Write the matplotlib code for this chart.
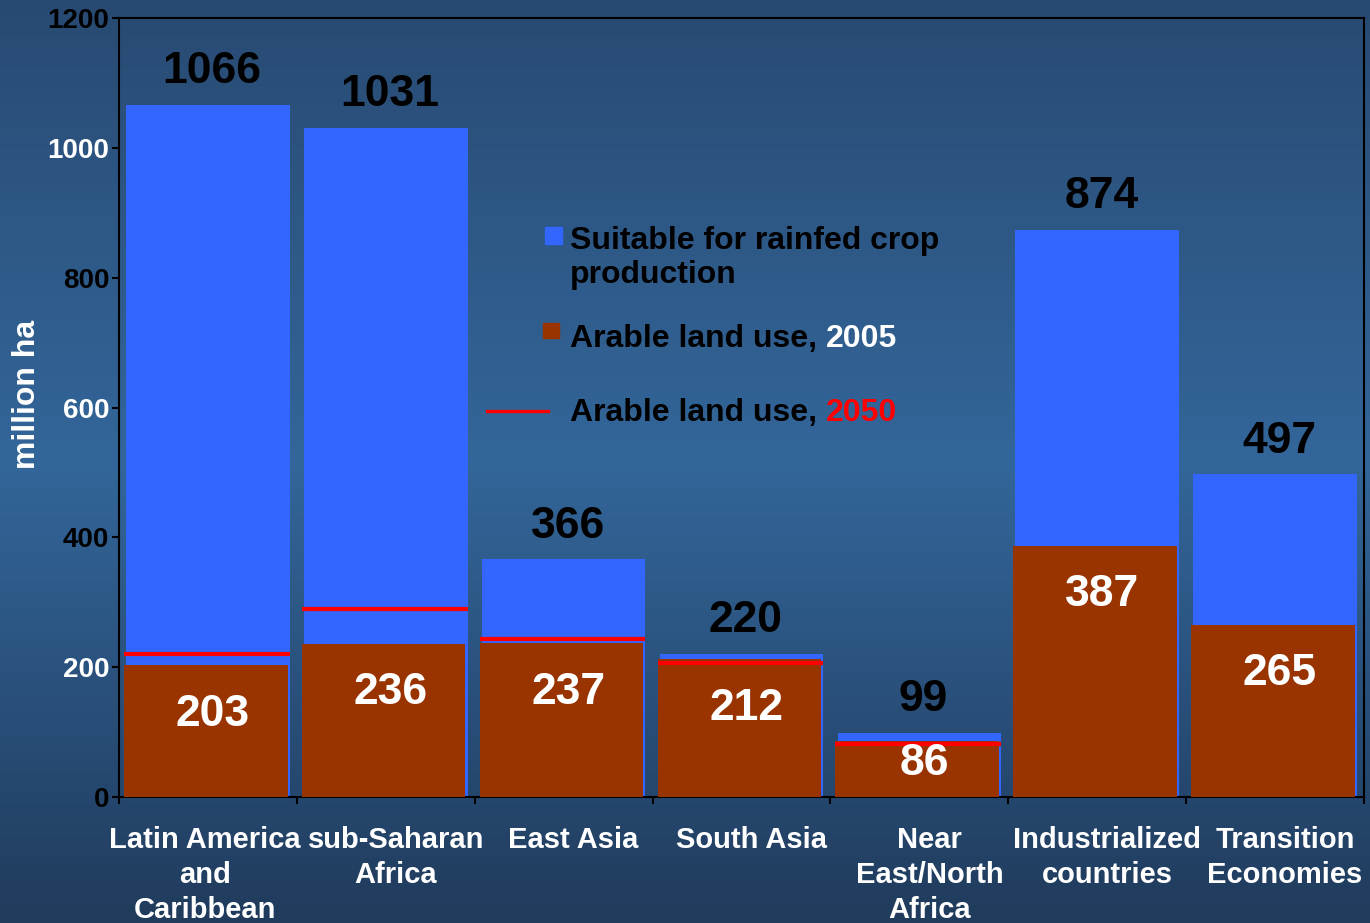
import matplotlib
matplotlib.use("Agg")
import matplotlib.pyplot as plt
import matplotlib.transforms as mtransforms
import numpy as np
from matplotlib.colors import LinearSegmentedColormap
from matplotlib.patches import Rectangle
from matplotlib.lines import Line2D
from matplotlib.text import Annotation

# ---- data -------------------------------------------------------------
regions = [
    "Latin America\nand\nCaribbean",
    "sub-Saharan\nAfrica",
    "East Asia",
    "South Asia",
    "Near\nEast/North\nAfrica",
    "Industrialized\ncountries",
    "Transition\nEconomies",
]
suitable_rainfed = [1066, 1031, 366, 220, 99, 874, 497]
arable_2005 = [203, 236, 237, 212, 86, 387, 265]
arable_2050 = [220, 290, 243, 206, 82, np.nan, np.nan]
y_ticks = [0, 200, 400, 600, 800, 1000, 1200]
y_tick_colors = ["black", "white", "black", "white", "black", "white", "black"]

legend_labels = ["Suitable for rainfed crop", "production",
                 "Arable land use,", "2005", "2050"]

# ---- style ------------------------------------------------------------
plt.rcParams["font.family"] = ["Liberation Sans", "DejaVu Sans"]
plt.rcParams["font.weight"] = "bold"

BLUE = "#3366ff"
BROWN = "#993300"
RED = "#ff0000"

W, H, DPI = 1370, 923, 100
fig = plt.figure(figsize=(W / DPI, H / DPI), dpi=DPI)


def fx(px):
    return px / W


def fy(py):
    return 1 - py / H


# vertical gradient background
bg = fig.add_axes([0, 0, 1, 1], zorder=-10)
grad_cmap = LinearSegmentedColormap.from_list(
    "bg", [(0.0, "#284a72"), (0.5, "#33669a"), (1.0, "#203b5c")])
bg.imshow(np.linspace(0, 1, 256).reshape(-1, 1), aspect="auto",
          cmap=grad_cmap, extent=[0, 1, 0, 1])
bg.set_axis_off()

ax = fig.add_axes([fx(119), fy(797), fx(1364) - fx(119), fy(18) - fy(797)])
ax.patch.set_alpha(0)

x = np.arange(len(regions))
bar_w = 0.92
shift = 0.012

ax.bar(x, suitable_rainfed, width=bar_w, color=BLUE, zorder=2)
ax.bar(x - shift, arable_2005, width=bar_w, color=BROWN, zorder=3)
ax.hlines(arable_2050, x - shift - bar_w / 2, x + bar_w / 2,
          colors=RED, linewidth=3.0, zorder=4)

ax.set_xlim(-0.5, len(regions) - 0.5)
ax.set_ylim(0, 1200)

# value labels
px_per_unit = 779 / 1200
for xi, v in zip(x, suitable_rainfed):
    ax.annotate(str(v), (xi, v), xytext=(3, 24), textcoords="offset points",
                ha="center", va="center", fontsize=32, fontweight="bold",
                color="black", zorder=5)
for xi, v in zip(x, arable_2005):
    off_px = min(49, 0.4 * v * px_per_unit)
    ax.annotate(str(v), (xi, v), xytext=(3.5, -off_px * 72 / DPI),
                textcoords="offset points", ha="center", va="center",
                fontsize=32, fontweight="bold", color="white", zorder=5)

# axes, ticks
for sp in ax.spines.values():
    sp.set_linewidth(1.5)
    sp.set_color("black")

ax.set_yticks(y_ticks)
ax.set_yticklabels([str(t) for t in y_ticks], fontsize=20, fontweight="bold")
for lab, c in zip(ax.get_yticklabels(), y_tick_colors):
    lab.set_color(c)
ax.tick_params(axis="y", direction="out", length=5, width=1.5, pad=2)

ax.set_xticks(x)
ax.set_xticklabels(regions, fontsize=21, fontweight="bold", color="white",
                   linespacing=1.32)
ax.tick_params(axis="x", which="major", length=0, pad=21)
# nudge the category labels: first slightly left, the rest slightly right
for i, lab in enumerate(ax.get_xticklabels()):
    dx = -3 if i == 0 else 10
    lab.set_transform(lab.get_transform() + mtransforms.ScaledTranslation(
        dx / DPI, 0, fig.dpi_scale_trans))
ax.set_xticks(np.arange(len(regions) + 1) - 0.5, minor=True)
ax.tick_params(axis="x", which="minor", direction="out", length=5, width=1.5)

fig.text(fx(27), fy(394), "million ha", rotation=90, ha="center",
         va="center", fontsize=23, fontweight="bold", color="white")

# legend drawn by hand
fig.add_artist(Rectangle((fx(545), fy(244)), fx(17), fy(227) - fy(244),
                         transform=fig.transFigure, color=BLUE))
fig.add_artist(Rectangle((fx(543), fy(338)), fx(16), fy(323) - fy(338),
                         transform=fig.transFigure, color=BROWN))
fig.add_artist(Line2D([fx(487), fx(548)], [fy(411), fy(411)],
                      transform=fig.transFigure, color=RED, linewidth=2.4))

LEG_FS = 23
fig.text(fx(570), fy(241), legend_labels[0], ha="left", va="center",
         fontsize=LEG_FS, fontweight="bold", color="black")
fig.text(fx(570), fy(275), legend_labels[1], ha="left", va="center",
         fontsize=LEG_FS, fontweight="bold", color="black")
t1 = fig.text(fx(570), fy(339), legend_labels[2], ha="left", va="center",
              fontsize=LEG_FS, fontweight="bold", color="black")
t2 = fig.text(fx(570), fy(413), legend_labels[2], ha="left", va="center",
              fontsize=LEG_FS, fontweight="bold", color="black")

# the year parts follow the shared prefix
for base, year, col in [(t1, legend_labels[3], "white"),
                        (t2, legend_labels[4], RED)]:
    fig.add_artist(Annotation(
        year, xy=(1, 0), xycoords=base, xytext=(6.5, 0),
        textcoords="offset points", ha="left", va="bottom",
        fontsize=LEG_FS, fontweight="bold", color=col))

fig.savefig("out.png", dpi=DPI)
